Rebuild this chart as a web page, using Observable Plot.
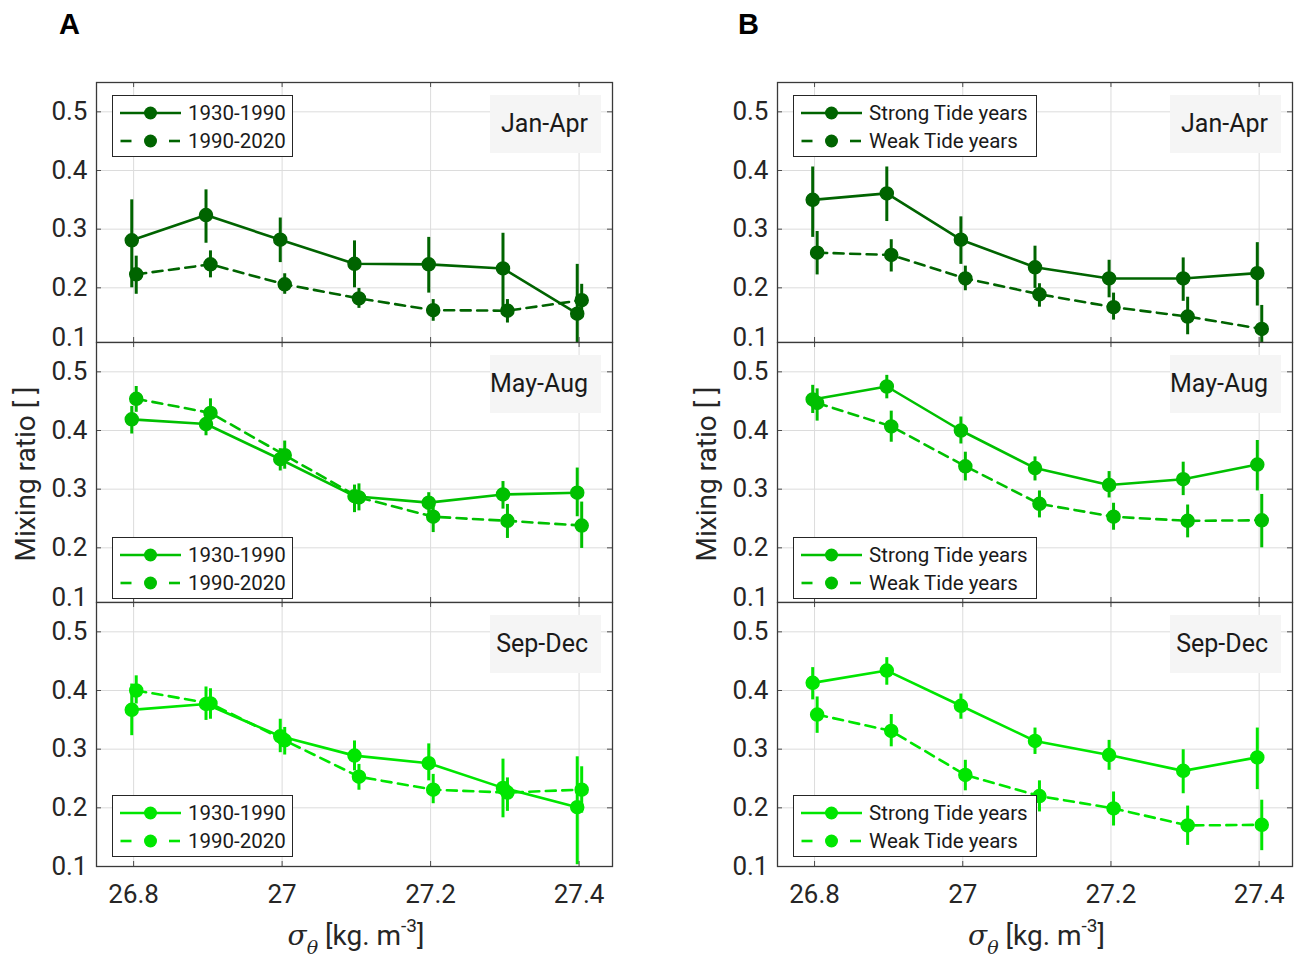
<!DOCTYPE html>
<html>
<head>
<meta charset="utf-8">
<script src="https://cdn.jsdelivr.net/npm/d3@7"></script>
<script src="https://cdn.jsdelivr.net/npm/@observablehq/plot@0.6"></script>
<style>
  body { margin: 0; background: #fff; }
  #root { position: relative; width: 1301px; height: 959px; overflow: hidden; font-family: Roboto, sans-serif; color: #262626; background: #fff; }
  .panel { position: absolute; }
  .legend { position: absolute; background: #fff; border: 1px solid #262626; box-sizing: border-box; }
  .legend .row { position: absolute; left: 0; height: 24px; width: 100%; }
  .legend .row svg { position: absolute; left: 5px; top: 4px; }
  .legend .row span { position: absolute; left: 75px; top: 0; line-height: 24px; font-size: 20.5px; white-space: nowrap; color: #1a1a1a; }
  .season { position: absolute; background: #f5f5f5; font-size: 25px; text-align: right; box-sizing: border-box; padding-right: 13px; color: #1a1a1a; }
  #overlay { position: absolute; left: 0; top: 0; pointer-events: none; }
</style>
</head>
<body>
<div id="root"></div>
<script>
// ---------------- data ----------------
const sigma = [26.8, 26.9, 27.0, 27.1, 27.2, 27.3, 27.4];
const xTicks = [26.8, 27.0, 27.2, 27.4];
const yTicks = [0.1, 0.2, 0.3, 0.4, 0.5];
const seasons = ["Jan-Apr", "May-Aug", "Sep-Dec"];
const seasonColors = ["#006400", "#00c000", "#00e600"];
const legendA = ["1930-1990", "1990-2020"];
const legendB = ["Strong Tide years", "Weak Tide years"];
const panelLetters = ["A", "B"];
const yLabel = "Mixing ratio [ ]";

// Panel A (periods) — Jan-Apr
const aJanSolid   = [0.281, 0.324, 0.282, 0.241, 0.240, 0.233, 0.156];
const aJanSolidLo = [0.200, 0.276, 0.243, 0.200, 0.191, 0.160, 0.072];
const aJanSolidHi = [0.350, 0.367, 0.319, 0.280, 0.286, 0.293, 0.240];
const aJanDash    = [0.223, 0.240, 0.206, 0.182, 0.162, 0.161, 0.179];
const aJanDashLo  = [0.189, 0.217, 0.189, 0.165, 0.143, 0.140, 0.154];
const aJanDashHi  = [0.254, 0.263, 0.224, 0.199, 0.180, 0.180, 0.206];
// Panel A — May-Aug
const aMaySolid   = [0.419, 0.411, 0.351, 0.288, 0.277, 0.291, 0.294];
const aMaySolidLo = [0.394, 0.391, 0.331, 0.260, 0.260, 0.266, 0.253];
const aMaySolidHi = [0.441, 0.429, 0.369, 0.307, 0.294, 0.313, 0.336];
const aMayDash    = [0.454, 0.430, 0.358, 0.286, 0.253, 0.246, 0.238];
const aMayDashLo  = [0.431, 0.406, 0.334, 0.263, 0.226, 0.216, 0.199];
const aMayDashHi  = [0.475, 0.454, 0.382, 0.309, 0.277, 0.274, 0.278];
// Panel A — Sep-Dec
const aSepSolid   = [0.367, 0.377, 0.322, 0.289, 0.276, 0.234, 0.201];
const aSepSolidLo = [0.323, 0.349, 0.294, 0.263, 0.246, 0.183, 0.103];
const aSepSolidHi = [0.411, 0.406, 0.351, 0.314, 0.309, 0.283, 0.287];
const aSepDash    = [0.400, 0.378, 0.315, 0.253, 0.231, 0.226, 0.231];
const aSepDashLo  = [0.377, 0.351, 0.290, 0.230, 0.207, 0.194, 0.191];
const aSepDashHi  = [0.425, 0.403, 0.337, 0.274, 0.257, 0.251, 0.270];

// Panel B (tide years) — Jan-Apr
const bJanSolid   = [0.350, 0.361, 0.282, 0.235, 0.216, 0.216, 0.225];
const bJanSolidLo = [0.286, 0.313, 0.240, 0.199, 0.183, 0.177, 0.169];
const bJanSolidHi = [0.406, 0.406, 0.321, 0.271, 0.247, 0.251, 0.277];
const bJanDash    = [0.260, 0.256, 0.216, 0.189, 0.167, 0.151, 0.130];
const bJanDashLo  = [0.222, 0.227, 0.195, 0.167, 0.145, 0.120, 0.090];
const bJanDashHi  = [0.296, 0.282, 0.237, 0.207, 0.191, 0.184, 0.170];
// Panel B — May-Aug
const bMaySolid   = [0.453, 0.475, 0.400, 0.336, 0.307, 0.317, 0.342];
const bMaySolidLo = [0.429, 0.454, 0.377, 0.314, 0.285, 0.289, 0.297];
const bMaySolidHi = [0.477, 0.494, 0.423, 0.355, 0.330, 0.346, 0.383];
const bMayDash    = [0.447, 0.407, 0.339, 0.275, 0.253, 0.246, 0.247];
const bMayDashLo  = [0.416, 0.380, 0.314, 0.251, 0.230, 0.217, 0.200];
const bMayDashHi  = [0.471, 0.433, 0.363, 0.297, 0.276, 0.273, 0.291];
// Panel B — Sep-Dec
const bSepSolid   = [0.413, 0.434, 0.374, 0.314, 0.290, 0.263, 0.286];
const bSepSolidLo = [0.384, 0.409, 0.351, 0.291, 0.264, 0.224, 0.231];
const bSepSolidHi = [0.439, 0.456, 0.394, 0.336, 0.315, 0.299, 0.336];
const bSepDash    = [0.359, 0.331, 0.256, 0.220, 0.199, 0.170, 0.171];
const bSepDashLo  = [0.327, 0.304, 0.229, 0.193, 0.169, 0.136, 0.127];
const bSepDashHi  = [0.389, 0.359, 0.281, 0.246, 0.227, 0.203, 0.213];

const panelData = [
  [
    [[aJanSolid, aJanSolidLo, aJanSolidHi], [aJanDash, aJanDashLo, aJanDashHi]],
    [[aMaySolid, aMaySolidLo, aMaySolidHi], [aMayDash, aMayDashLo, aMayDashHi]],
    [[aSepSolid, aSepSolidLo, aSepSolidHi], [aSepDash, aSepDashLo, aSepDashHi]]
  ],
  [
    [[bJanSolid, bJanSolidLo, bJanSolidHi], [bJanDash, bJanDashLo, bJanDashHi]],
    [[bMaySolid, bMaySolidLo, bMaySolidHi], [bMayDash, bMayDashLo, bMayDashHi]],
    [[bSepSolid, bSepSolidLo, bSepSolidHi], [bSepDash, bSepDashLo, bSepDashHi]]
  ]
];

// ---------------- layout ----------------
const root = document.getElementById("root");
const colSvgLeft = [0, 680];
const colSvgWidth = [650, 621];
const colMarginLeft = [96, 97];
const colMarginRight = [38, 9];
const legendWidth = [181, 244];
const rowFrameTop = [82, 342, 602];
const rowInner = [260, 260, 264];
const yMax = 0.55;
const pxPerUnit = 264 / 0.45;
const xDomain = [26.75, 27.445];
const seriesDx = [-0.0025, 0.0035];
const marginTop = 2;
const tickColor = "#4d4d4d";

function rows(m, lo, hi, dx) {
  return sigma.map((s, i) => ({x: s + dx, y: m[i], lo: lo[i], hi: hi[i]}));
}

for (let c = 0; c < 2; c++) {
  for (let r = 0; r < 3; r++) {
    const h = rowInner[r];
    const y0 = yMax - h / pxPerUnit;
    const isBottom = r === 2;
    const mb = isBottom ? 44 : 12;
    const innerW = colSvgWidth[c] - colMarginLeft[c] - colMarginRight[c];
    const color = seasonColors[r];
    const inTicks = yTicks.filter(v => v >= y0 - 1e-9);
    const series = panelData[c][r].map((s, k) => rows(s[0], s[1], s[2], seriesDx[k]));

    const marks = [
      Plot.frame({fill: "white", stroke: null}),
      Plot.gridX(xTicks, {stroke: "#dcdcdc", strokeOpacity: 1, strokeWidth: 1}),
      Plot.gridY(inTicks, {stroke: "#dcdcdc", strokeOpacity: 1, strokeWidth: 1})
    ];
    series.forEach((d, k) => {
      marks.push(
        Plot.line(d, {x: "x", y: "y", stroke: color, strokeWidth: 2.6, strokeDasharray: k === 1 ? "10,6.5" : null, clip: true}),
        Plot.ruleX(d, {x: "x", y1: "lo", y2: "hi", stroke: color, strokeWidth: 3, clip: true}),
        Plot.dot(d, {x: "x", y: "y", r: 6.5, fill: color, stroke: color, clip: true})
      );
    });
    marks.push(
      // inward ticks on all four sides
      Plot.tickX(xTicks, {x: d => d, insetTop: h - 5, stroke: tickColor}),
      Plot.tickX(xTicks, {x: d => d, insetBottom: h - 5, stroke: tickColor}),
      Plot.tickY(inTicks, {y: d => d, insetRight: innerW - 5, stroke: tickColor}),
      Plot.tickY(inTicks, {y: d => d, insetLeft: innerW - 5, stroke: tickColor}),
      Plot.frame({stroke: "#3a3a3a", strokeWidth: 1.3}),
      Plot.axisY(isBottom ? yTicks : yTicks.filter(v => v > 0.15), {
        tickSize: 0, tickPadding: 9, tickFormat: d => d.toFixed(1), fill: "#262626", label: null
      })
    );
    if (!isBottom) {
      marks.push(Plot.axisY([0.1], {tickSize: 0, tickPadding: 9, dy: -9, tickFormat: d => d.toFixed(1), fill: "#262626", label: null}));
    }
    if (isBottom) {
      marks.push(Plot.axisX(xTicks, {tickSize: 0, tickPadding: 18, tickFormat: d => String(+d.toFixed(1)), fill: "#262626", label: null}));
    } else {
      marks.push(Plot.axisX([], {label: null}));
    }

    const svg = Plot.plot({
      width: colSvgWidth[c],
      height: marginTop + h + mb,
      marginLeft: colMarginLeft[c],
      marginRight: colMarginRight[c],
      marginTop: marginTop,
      marginBottom: mb,
      style: {background: "transparent", fontFamily: "Roboto, sans-serif", fontSize: "26px", overflow: "visible"},
      x: {domain: xDomain, label: null},
      y: {domain: [y0, yMax], label: null},
      marks
    });
    svg.classList.add("panel");
    svg.style.position = "absolute";
    svg.style.left = colSvgLeft[c] + "px";
    svg.style.top = (rowFrameTop[r] - marginTop) + "px";
    root.appendChild(svg);
  }
}

// legends and season labels
for (let c = 0; c < 2; c++) {
  const frameLeft = colSvgLeft[c] + colMarginLeft[c];
  const frameRight = colSvgLeft[c] + colSvgWidth[c] - colMarginRight[c];
  const labels = c === 0 ? legendA : legendB;
  for (let r = 0; r < 3; r++) {
    const color = seasonColors[r];
    const lg = document.createElement("div");
    lg.className = "legend";
    lg.style.left = (frameLeft + 16) + "px";
    lg.style.width = legendWidth[c] + "px";
    lg.style.height = "62px";
    const top = r === 0 ? rowFrameTop[0] + 13 : (r === 1 ? 537 : 795);
    lg.style.top = top + "px";
    labels.forEach((lab, k) => {
      const row = document.createElement("div");
      row.className = "row";
      row.style.top = (k === 0 ? 5 : 32.5) + "px";
      const sample = k === 0
        ? `<line x1="2" x2="63" y1="8" y2="8" stroke="${color}" stroke-width="2.6"/>`
        : `<line x1="2.5" x2="13.5" y1="8" y2="8" stroke="${color}" stroke-width="2.6"/><line x1="51" x2="62" y1="8" y2="8" stroke="${color}" stroke-width="2.6"/>`;
      row.innerHTML = `<svg width="66" height="16">${sample}<circle cx="32.5" cy="8" r="6.5" fill="${color}"/></svg><span>${lab}</span>`;
      lg.appendChild(row);
    });
    root.appendChild(lg);

    const sl = document.createElement("div");
    sl.className = "season";
    sl.textContent = seasons[r];
    sl.style.left = (frameRight - 11 - 111) + "px";
    sl.style.width = "111px";
    sl.style.top = (rowFrameTop[r] + 13) + "px";
    sl.style.height = "58px";
    sl.style.lineHeight = "58px";
    root.appendChild(sl);
  }
}

// overlay: panel letters, axis titles
const ns = "http://www.w3.org/2000/svg";
const ov = document.createElementNS(ns, "svg");
ov.setAttribute("id", "overlay");
ov.setAttribute("width", 1301);
ov.setAttribute("height", 959);
ov.style.fontFamily = "Roboto, sans-serif";
let ovHtml = "";
for (let c = 0; c < 2; c++) {
  const off = c === 0 ? 0 : 679;
  const frameLeft = colSvgLeft[c] + colMarginLeft[c];
  const frameRight = colSvgLeft[c] + colSvgWidth[c] - colMarginRight[c];
  const cx = (frameLeft + frameRight) / 2 + 2;
  ovHtml += `<text x="${69.5 + off}" y="34" text-anchor="middle" font-family="Liberation Sans, Arial, sans-serif" font-weight="bold" font-size="29" fill="#000">${panelLetters[c]}</text>`;
  ovHtml += `<text transform="translate(${35 + (c === 0 ? 0 : 681)},474) rotate(-90)" text-anchor="middle" font-size="28" fill="#262626">${yLabel}</text>`;
  ovHtml += `<text x="${cx}" y="945" text-anchor="middle" font-size="28" fill="#262626"><tspan font-style="italic" font-family="DejaVu Serif, serif">σ</tspan><tspan font-style="italic" font-family="DejaVu Serif, serif" font-size="19" dy="9">θ</tspan><tspan dy="-9"> [kg. m</tspan><tspan font-size="19" dy="-13">-3</tspan><tspan dy="13">]</tspan></text>`;
}
ov.innerHTML = ovHtml;
root.appendChild(ov);
</script>
</body>
</html>
